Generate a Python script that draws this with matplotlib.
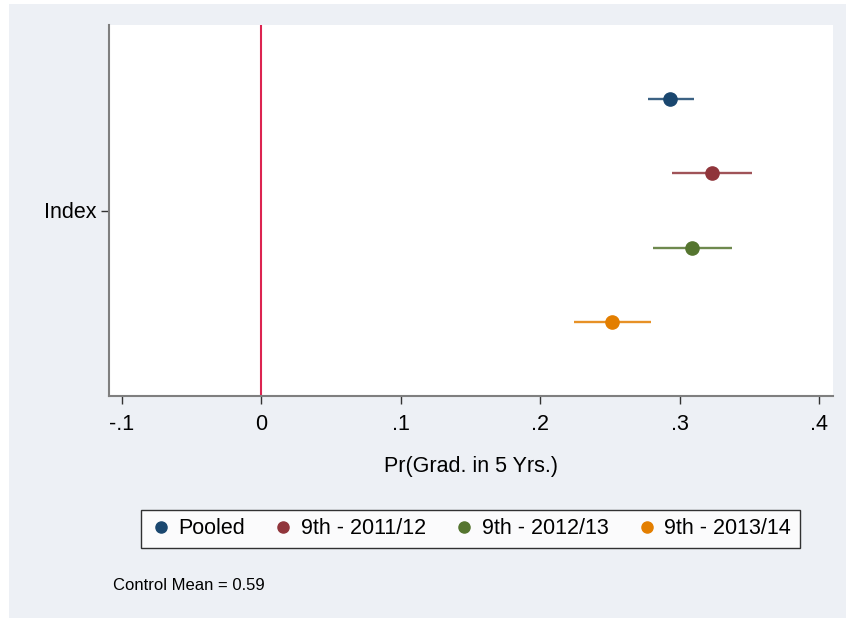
import matplotlib
matplotlib.use("Agg")
import matplotlib.pyplot as plt
from matplotlib.lines import Line2D
from matplotlib.patches import Rectangle

# Coefficient estimates with 95% confidence intervals
series = ["Pooled", "9th - 2011/12", "9th - 2012/13", "9th - 2013/14"]
estimates = [0.293, 0.323, 0.309, 0.251]
ci_low = [0.277, 0.294, 0.281, 0.224]
ci_high = [0.310, 0.352, 0.337, 0.279]
colors = ["#1a476f", "#90353b", "#55752f", "#e37e00"]

row_label = "Index"
x_ticks = [-0.1, 0, 0.1, 0.2, 0.3, 0.4]
x_tick_labels = ["-.1", "0", ".1", ".2", ".3", ".4"]
x_title = "Pr(Grad. in 5 Yrs.)"
note = "Control Mean = 0.59"

plt.rcParams["font.family"] = ["Liberation Sans", "DejaVu Sans"]

W, H = 846, 618
fig = plt.figure(figsize=(W / 100, H / 100), dpi=100, facecolor="white")
bg = "#edf0f5"
fig.patches.append(Rectangle((9 / W, 0), 1 - 9 / W, 1 - 4 / H,
                             transform=fig.transFigure, facecolor=bg,
                             edgecolor="none", zorder=-10))

ax = fig.add_axes([109 / W, 1 - 396 / H, (833 - 109) / W, (396 - 25) / H])
ax.set_facecolor("white")

n = len(series)
offsets = [i - (n - 1) / 2 for i in range(n)]
for off, est, lo, hi, c in zip(offsets, estimates, ci_low, ci_high, colors):
    ax.plot([lo, hi], [off, off], color=c, lw=1.7, alpha=0.85,
            solid_capstyle="butt", zorder=2)
    ax.plot([est], [off], marker="o", ms=9.5, color=c, mec=c, ls="none", zorder=3)

ax.axvline(0, color="#dc2450", lw=1.5, zorder=1)

ax.set_xlim(-0.1092, 0.4097)
ax.set_ylim(2.5, -2.5)
ax.set_xticks(x_ticks)
ax.set_xticklabels(x_tick_labels)
ax.set_yticks([0])
ax.set_yticklabels([row_label])

for s in ["top", "right"]:
    ax.spines[s].set_visible(False)
for s in ["left", "bottom"]:
    ax.spines[s].set_color("#7f7f7f")
    ax.spines[s].set_linewidth(1.5)

ax.tick_params(axis="both", direction="out", length=6, width=1,
               color="#333333", labelsize=15.5, labelcolor="black")
ax.tick_params(axis="x", pad=7)
ax.tick_params(axis="y", pad=3)

ax.set_xlabel(x_title, fontsize=15.5, labelpad=15)

handles = [Line2D([], [], marker="o", ls="none", color=c, ms=8) for c in colors]
leg = fig.legend(handles, series, loc="center", ncol=4,
                 bbox_to_anchor=(470.5 / W, 1 - 529 / H),
                 fontsize=15.5, frameon=True, fancybox=False,
                 handletextpad=0.3, columnspacing=1.3, handlelength=1.0,
                 borderpad=0.4)
leg.get_frame().set_edgecolor("black")
leg.get_frame().set_linewidth(1.0)
leg.get_frame().set_facecolor("white")

fig.text(113 / W, 1 - 585 / H, note, fontsize=12, va="center", ha="left")

fig.savefig("out.png", dpi=100, facecolor=fig.get_facecolor())
